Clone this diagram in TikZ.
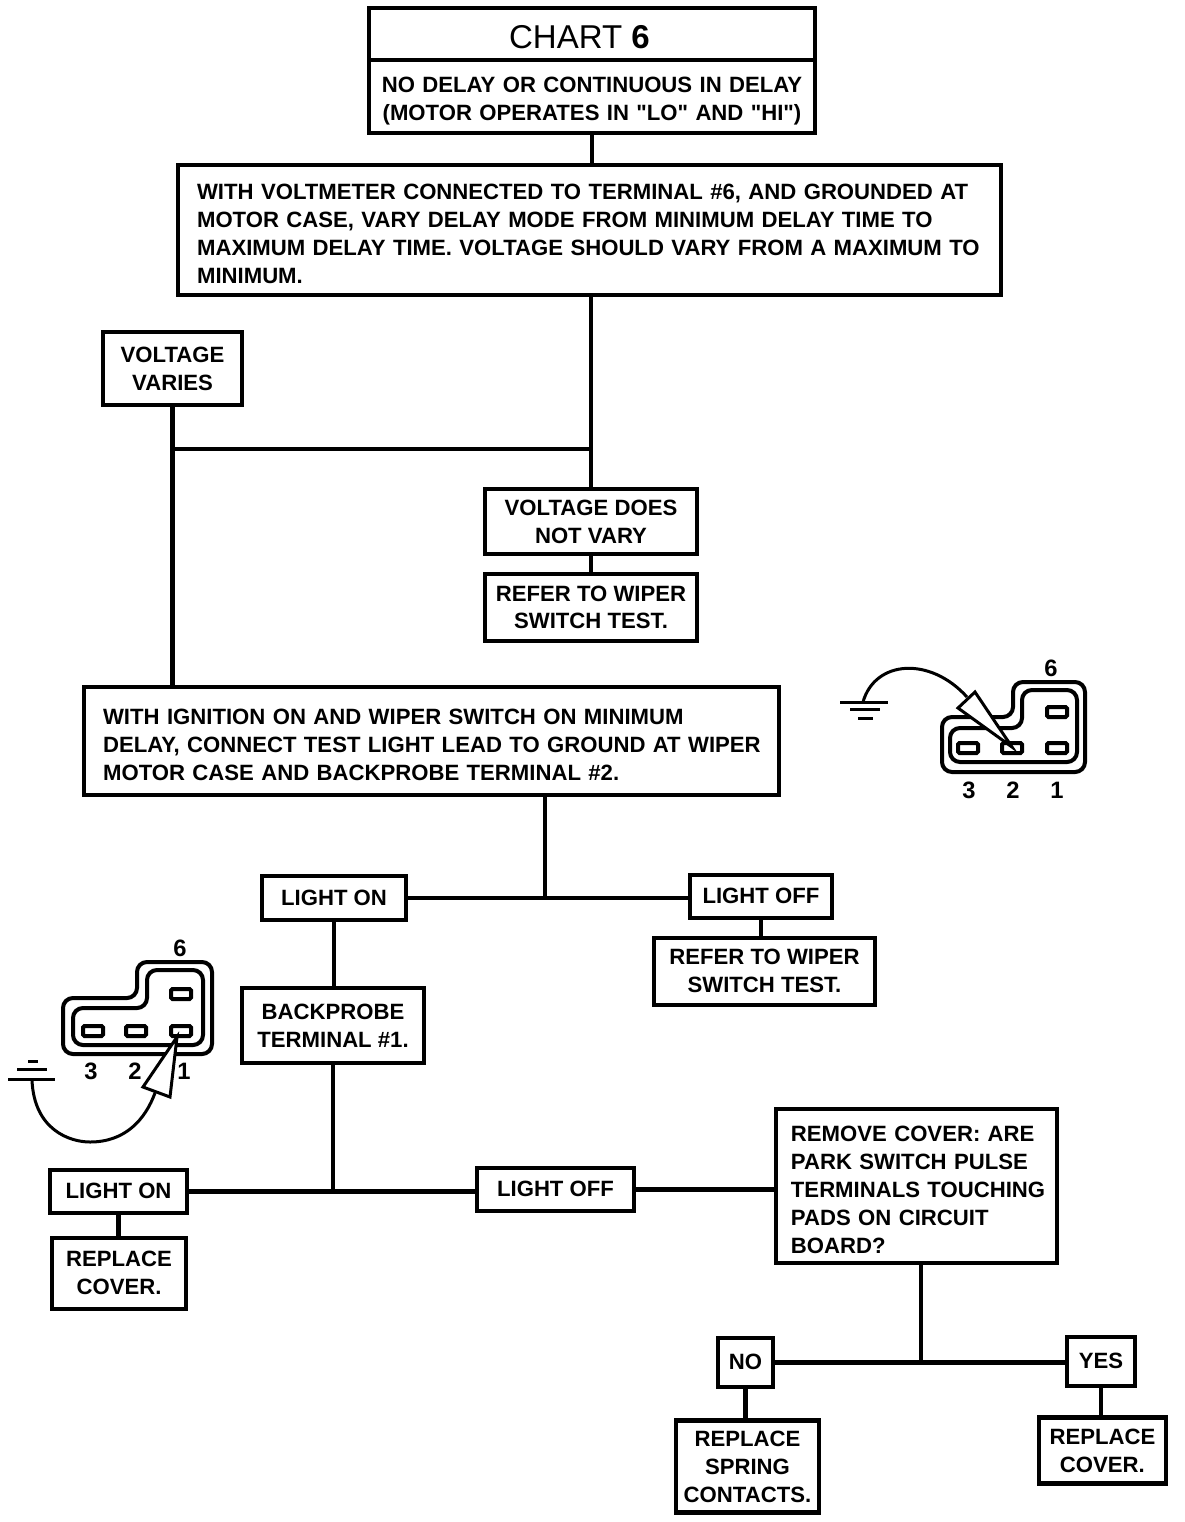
\documentclass[tikz,border=0pt]{standalone}
\usepackage{fontspec}
\setmainfont{Liberation Sans}[Ligatures=TeXOff]
\usetikzlibrary{positioning}

\begin{document}
\begin{tikzpicture}[
    x=0.02cm, y=-0.02cm,
    box/.style={rectangle, draw=black, fill=white, line width=0.09cm, outer sep=0pt, inner sep=0pt, align=center, font=\fontsize{12.6}{15.9}\selectfont\bfseries},
    leftbox/.style={box, align=left, inner xsep=0.38cm, execute at begin node={\rule{0pt}{0.48cm}}},
    link/.style={draw=black, line width=0.09cm},
    outline/.style={draw=black, line width=0.08cm, rounded corners=0.2cm},
    pad/.style={draw=black, line width=0.08cm, fill=white, rounded corners=0.03cm},
    wire/.style={draw=black, line width=0.06cm},
    pin/.style={font=\fontsize{13.5}{15.9}\selectfont\bfseries, inner sep=0pt}
]
\useasboundingbox (0,0) rectangle (1184,1522);

% Top of the chart
\node[box, minimum width=8.92cm, minimum height=1.04cm, text height=0.6cm, font=\fontsize{18.8}{20}\selectfont] (title) at (592,34) {CHART \textbf{6}\hspace*{0.5cm}};
\node[leftbox, align=center, inner xsep=0pt, text width=8.92cm, minimum height=1.46cm, below=0cm of title] (symptom) {NO DELAY OR CONTINUOUS IN DELAY\\(MOTOR OPERATES IN "LO" AND "HI")};
\node[leftbox, text width=15.7cm, minimum height=2.6cm, below=0.64cm of symptom, xshift=-0.05cm] (voltmeter) {\mbox{WITH VOLTMETER CONNECTED TO TERMINAL \#6, AND GROUNDED AT}\\\mbox{MOTOR CASE, VARY DELAY MODE FROM MINIMUM DELAY TIME TO}\\\mbox{MAXIMUM DELAY TIME. VOLTAGE SHOULD VARY FROM A MAXIMUM TO}\\MINIMUM.};

% Voltage branches
\node[box, minimum width=2.78cm, minimum height=1.46cm, below=0.74cm of voltmeter, xshift=-8.34cm] (varies) {VOLTAGE\\VARIES};
\node[box, minimum width=4.24cm, minimum height=1.3cm, below=3.88cm of voltmeter, xshift=0.03cm] (novary) {VOLTAGE DOES\\NOT VARY};
\node[box, minimum width=4.24cm, minimum height=1.34cm, below=0.4cm of novary] (referA) {REFER TO WIPER\\SWITCH TEST.};
\node[leftbox, text width=13.14cm, minimum height=2.16cm, below=0.92cm of referA, xshift=-3.19cm] (ignition) {\mbox{WITH IGNITION ON AND WIPER SWITCH ON MINIMUM}\\\mbox{DELAY, CONNECT TEST LIGHT LEAD TO GROUND AT WIPER}\\\mbox{MOTOR CASE AND BACKPROBE TERMINAL \#2.}};

% Terminal 2 branches
\node[box, minimum width=2.88cm, minimum height=0.88cm, below=1.62cm of ignition, xshift=-1.95cm] (onA) {LIGHT ON};
\node[box, minimum width=2.84cm, minimum height=0.86cm, below=1.6cm of ignition, xshift=6.59cm] (offA) {LIGHT OFF};
\node[box, minimum width=4.42cm, minimum height=1.34cm, below=0.4cm of offA, xshift=0.07cm] (referB) {REFER TO WIPER\\SWITCH TEST.};
\node[box, minimum width=3.64cm, minimum height=1.5cm, below=1.36cm of onA, xshift=-0.02cm] (backprobe) {BACKPROBE\\TERMINAL \#1.};

% Terminal 1 branches
\node[box, minimum width=2.74cm, minimum height=0.86cm, below=2.14cm of backprobe, xshift=-4.29cm] (onB) {LIGHT ON};
\node[box, minimum width=3.14cm, minimum height=0.86cm, below=2.1cm of backprobe, xshift=4.45cm] (offB) {LIGHT OFF};
\node[box, minimum width=2.68cm, minimum height=1.42cm, below=0.5cm of onB, xshift=0.01cm] (replaceA) {REPLACE\\COVER.};
\node[leftbox, inner xsep=0.3cm, text width=5.02cm, minimum height=3.08cm, right=2.84cm of offB, yshift=0.07cm] (cover) {\mbox{REMOVE COVER: ARE}\\\mbox{PARK SWITCH PULSE}\\\mbox{TERMINALS TOUCHING}\\\mbox{PADS ON CIRCUIT}\\BOARD?};

% Last question
\node[box, minimum width=1.1cm, minimum height=0.98cm, below=1.5cm of cover, xshift=-3.42cm] (no) {NO};
\node[box, minimum width=1.36cm, minimum height=0.98cm, below=1.48cm of cover, xshift=3.69cm] (yes) {YES};
\node[box, minimum width=2.86cm, minimum height=1.84cm, below=0.68cm of no, xshift=0.04cm] (spring) {REPLACE\\SPRING\\CONTACTS.};
\node[box, minimum width=2.54cm, minimum height=1.32cm, below=0.64cm of yes, xshift=0.03cm] (replaceB) {REPLACE\\COVER.};

% Joints on the lines
\coordinate[above=0.8cm of novary.north] (varyjoin);
\coordinate[right=2.78cm of onA.east] (lightjoin);
\coordinate[right=2.96cm of no.east] (coverjoin);

% Main flow
\draw[link] (symptom.south) -- (symptom.south |- voltmeter.north);
\draw[link] (novary.north) -- (novary.north |- voltmeter.south);
\draw[link] (varyjoin) -- (varyjoin -| varies.south);
\draw[link] (varies.south) -- (varies.south |- ignition.north);
\draw[link] (novary) -- (referA);
\draw[link] (lightjoin) -- (lightjoin |- ignition.south);
\draw[link] (onA.east) -- (onA.east -| offA.west);
\draw[link] (offA.south) -- (offA.south |- referB.north);
\draw[link] (onA.south) -- (onA.south |- backprobe.north);
\draw[link] (backprobe.south) -- (backprobe.south |- onB.east);
\draw[link] (onB.east) -- (onB.east -| offB.west);
\draw[link] (offB.east) -- (offB.east -| cover.west);
\draw[link] (onB.south) -- (onB.south |- replaceA.north);
\draw[link] (coverjoin) -- (coverjoin |- cover.south);
\draw[link] (no.east) -- (no.east -| yes.west);
\draw[link] (no.south) -- (no.south |- spring.north);
\draw[link] (yes.south) -- (yes.south |- replaceB.north);

% Connector at terminal 2
\draw[outline] (942,772) -- (942,717) -- (1013,717) -- (1013,682) -- (1085,682) -- (1085,772) -- cycle;
\draw[outline] (950,762) -- (950,728) -- (1022,728) -- (1022,690) -- (1077,690) -- (1077,762) -- cycle;
\foreach \px/\py in {968/748, 1012/748, 1057/748, 1057/712}
    \draw[pad] (\px-10,\py-5) rectangle (\px+10,\py+5);
\node[pin] (sixA) at (1051,668) {6};
\node[pin] (threeA) at (969,790) {3};
\node[pin] (twoA) at (1013,790) {2};
\node[pin] (oneA) at (1057,790) {1};
\draw[wire] (863,702) .. controls (875,660) and (930,656) .. (967,697);
\draw[wire, fill=white] (1012,747) -- (958,708) -- (975,692) -- cycle;
\draw[wire] (840,702) -- (888,702);
\draw[wire] (850,709) -- (880,709);
\draw[wire] (858,718) -- (873,718);

% Connector at terminal 1
\draw[outline] (63,1054) -- (63,998) -- (137,998) -- (137,962) -- (212,962) -- (212,1054) -- cycle;
\draw[outline] (73,1045) -- (73,1008) -- (147,1008) -- (147,970) -- (203,970) -- (203,1045) -- cycle;
\foreach \px/\py in {93/1031, 136/1031, 181/1031, 181/994}
    \draw[pad] (\px-10,\py-5) rectangle (\px+10,\py+5);
\node[pin] (sixB) at (180,948) {6};
\node[pin] (threeB) at (91,1071) {3};
\node[pin] (twoB) at (135,1071) {2};
\node[pin] (oneB) at (184,1071) {1};
\draw[wire] (32,1080) .. controls (34,1130) and (70,1142) .. (90,1142) .. controls (125,1142) and (145,1120) .. (155,1093);
\draw[wire, fill=white] (177,1037) -- (143,1087) -- (170,1097) -- cycle;
\draw[wire] (8,1079) -- (55,1079);
\draw[wire] (17,1069) -- (47,1069);
\draw[wire] (28,1061) -- (38,1061);

\end{tikzpicture}
\end{document}
